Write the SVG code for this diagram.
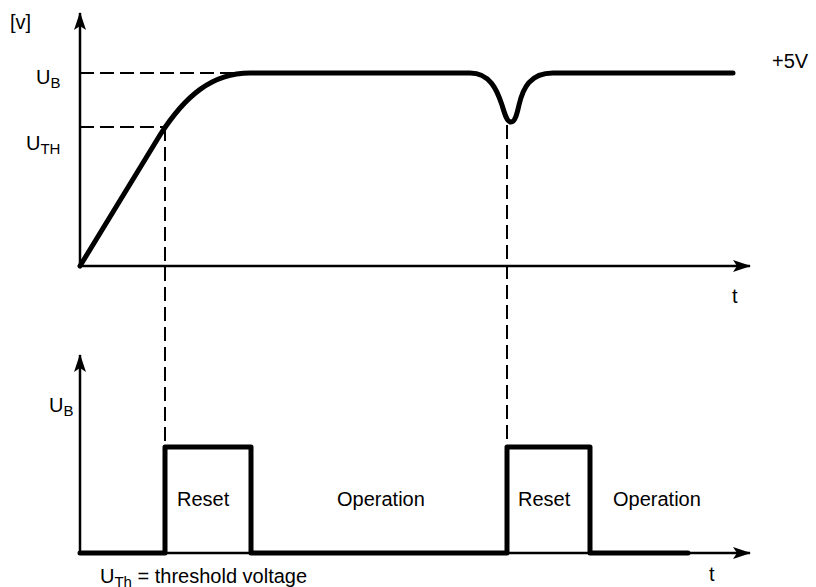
<svg xmlns="http://www.w3.org/2000/svg" width="816" height="587" viewBox="0 0 816 587">
<style>
text{font-family:"Liberation Sans",Arial,sans-serif;fill:#000}
.lbl{font-size:20px}
.ax{font-size:20px}
.sub{font-size:15px}
.axis{stroke:#000;stroke-width:2.5;fill:none}
.dash{stroke:#000;stroke-width:2;fill:none;stroke-dasharray:14 6}
.sig{stroke:#000;stroke-width:5;fill:none;stroke-linejoin:round;stroke-linecap:round}
</style>
<defs>
<marker id="arr" viewBox="0 0 18 12" refX="17" refY="6" markerWidth="18" markerHeight="12" markerUnits="userSpaceOnUse" orient="auto">
<path d="M0,0 L18,6 L0,12 L4,6 Z" fill="#000"/>
</marker>
</defs>
<rect width="816" height="587" fill="#fff"/>
<g id="connectors">
<line class="axis" x1="80" y1="266" x2="80" y2="13" marker-end="url(#arr)"/>
<line class="axis" x1="80" y1="266" x2="750" y2="266" marker-end="url(#arr)"/>
<line class="axis" x1="80" y1="553" x2="80" y2="355" marker-end="url(#arr)"/>
<line class="axis" x1="80" y1="553" x2="750" y2="553" marker-end="url(#arr)"/>
<line class="dash" x1="80" y1="73" x2="240" y2="73"/>
<line class="dash" x1="80" y1="127" x2="165" y2="127"/>
<line class="dash" x1="165" y1="127" x2="165" y2="447"/>
<line class="dash" x1="507" y1="125" x2="507" y2="447"/>
</g>
<g id="voltage-curve">
<path class="sig" d="M80,266 L160,135 C185,96 212,73 250,73 L470,73 C490,73 497,90 502,105 C505,115 507,122 511,122 C515,122 517,114 519,105 C523,88 530,73 553,73 L733,73"/>
</g>
<g id="reset-signal">
<path class="sig" d="M80,553 L165,553 L165,447 L251,447 L251,553 L507,553 L507,447 L590,447 L590,553 L688,553"/>
</g>
<g id="labels">
<text class="ax" x="10" y="29">[v]</text>
<text class="ax" x="36" y="84">U<tspan class="sub" dy="4">B</tspan></text>
<text class="ax" x="26" y="150">U<tspan class="sub" dy="4">TH</tspan></text>
<text class="ax" x="772" y="68">+5V</text>
<text class="ax" x="732" y="303">t</text>
<text class="ax" x="49" y="412">U<tspan class="sub" dy="4">B</tspan></text>
<text class="lbl" x="177" y="506">Reset</text>
<text class="lbl" x="337" y="506">Operation</text>
<text class="lbl" x="518" y="506">Reset</text>
<text class="lbl" x="613" y="506">Operation</text>
<text class="ax" x="709" y="581">t</text>
<text class="lbl" x="100" y="583">U<tspan class="sub" dy="4">Th</tspan><tspan dy="-4"> = threshold voltage</tspan></text>
</g>
</svg>
